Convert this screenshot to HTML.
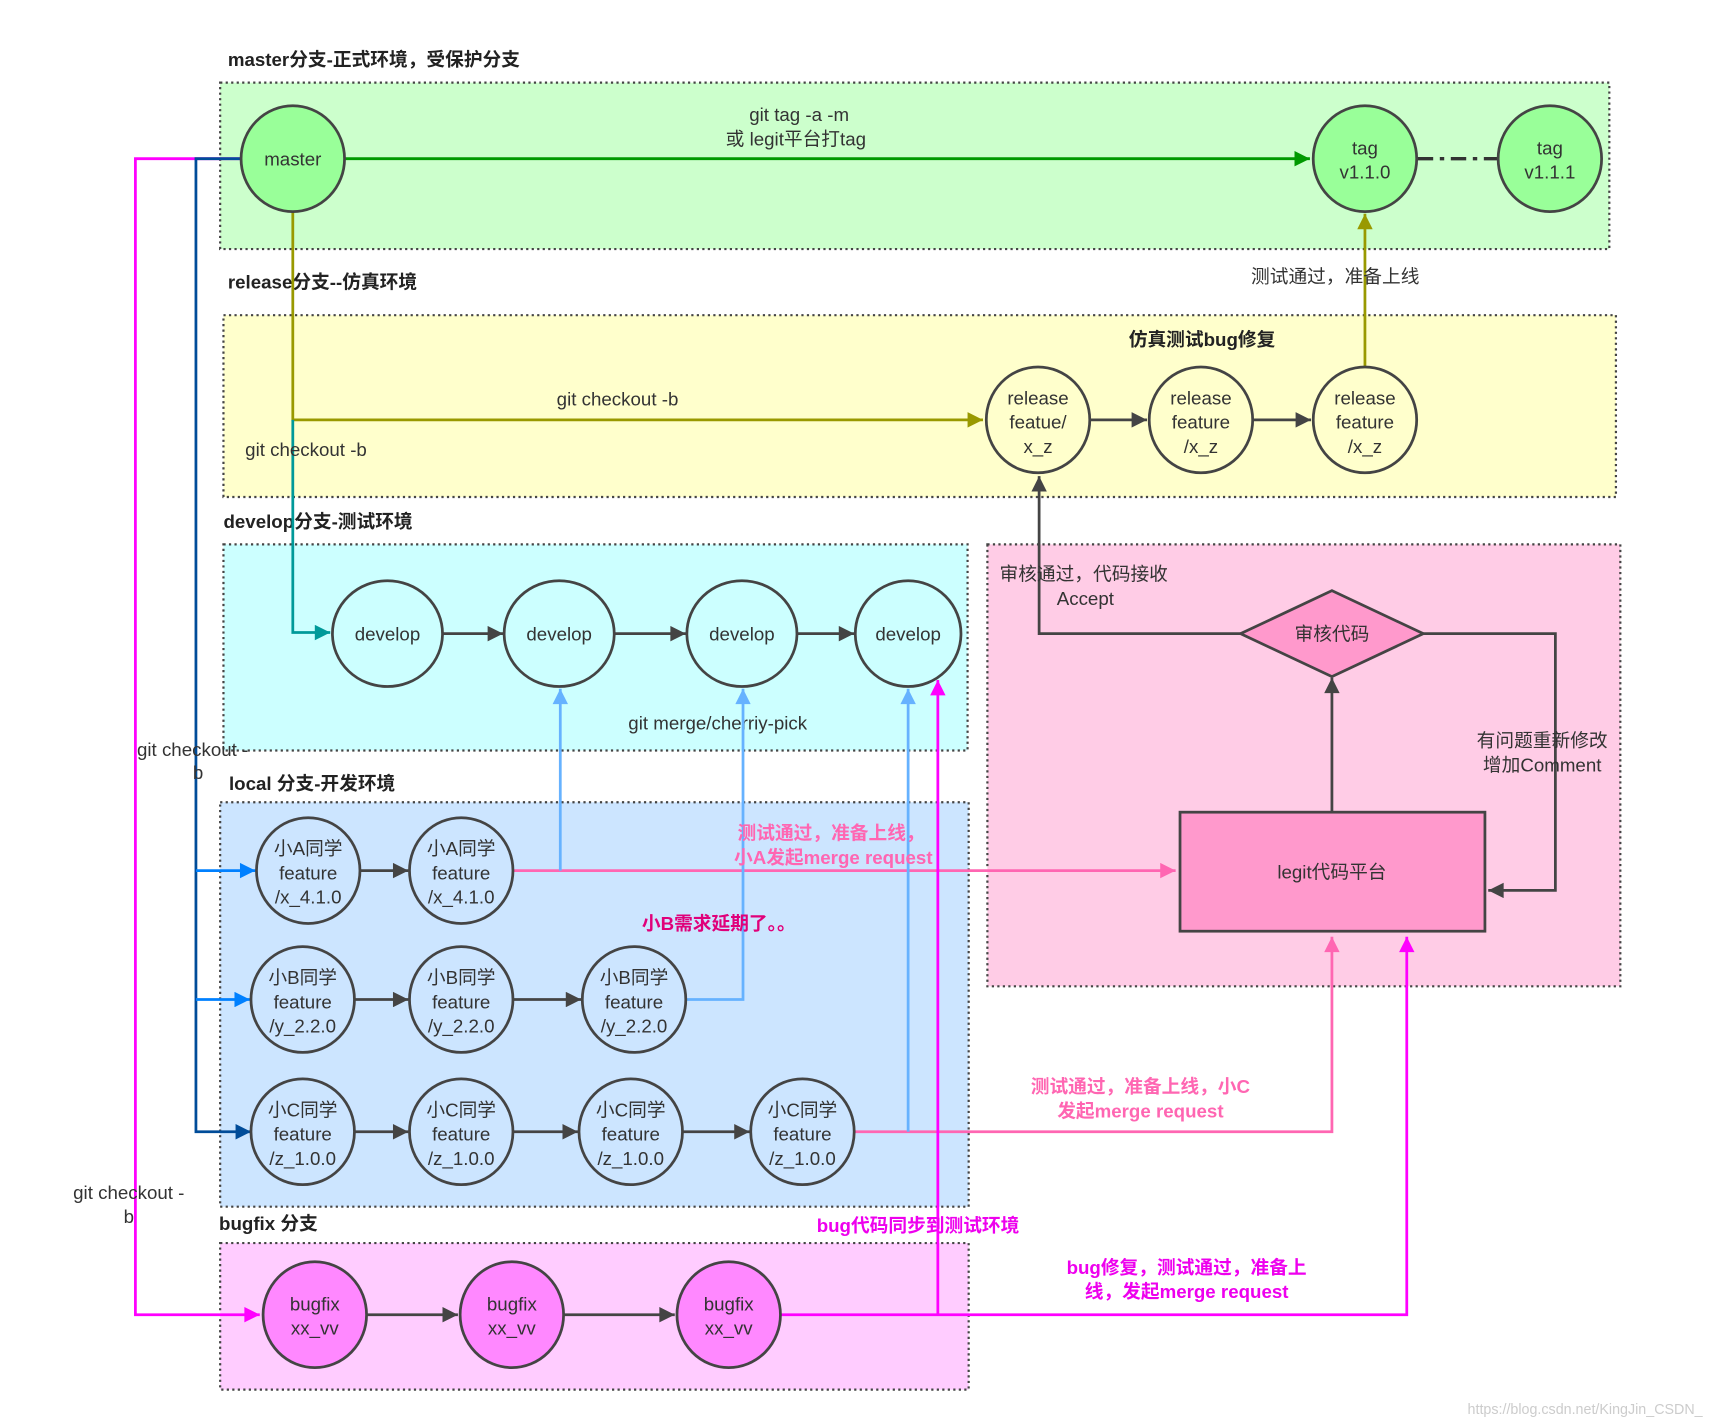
<!DOCTYPE html>
<html><head><meta charset="utf-8"><style>
html,body{margin:0;padding:0;background:#fff;}
svg{display:block;}
text{font-family:"Liberation Sans","Noto Sans CJK SC",sans-serif;font-size:17px;fill:#333;}
.b{font-weight:bold;fill:#222;}
.n{text-anchor:middle;fill:#333;}
.pk{font-weight:bold;fill:#ff66b2;text-anchor:middle;}
.mg{font-weight:bold;fill:#ee00ee;text-anchor:middle;}
</style></head><body>
<svg width="1726" height="1426" viewBox="0 0 1568 1294" preserveAspectRatio="none" xmlns="http://www.w3.org/2000/svg">
<defs>
<marker id="aDark" viewBox="0 0 10 10" refX="10" refY="5" markerWidth="20" markerHeight="14" orient="auto" markerUnits="userSpaceOnUse"><path d="M0,0L10,5L0,10z" fill="#444"/></marker>
<marker id="aGreen" viewBox="0 0 10 10" refX="10" refY="5" markerWidth="20" markerHeight="14" orient="auto" markerUnits="userSpaceOnUse"><path d="M0,0L10,5L0,10z" fill="#009900"/></marker>
<marker id="aOlive" viewBox="0 0 10 10" refX="10" refY="5" markerWidth="20" markerHeight="14" orient="auto" markerUnits="userSpaceOnUse"><path d="M0,0L10,5L0,10z" fill="#999900"/></marker>
<marker id="aTeal" viewBox="0 0 10 10" refX="10" refY="5" markerWidth="20" markerHeight="14" orient="auto" markerUnits="userSpaceOnUse"><path d="M0,0L10,5L0,10z" fill="#009999"/></marker>
<marker id="aLB" viewBox="0 0 10 10" refX="10" refY="5" markerWidth="20" markerHeight="14" orient="auto" markerUnits="userSpaceOnUse"><path d="M0,0L10,5L0,10z" fill="#66b2ff"/></marker>
<marker id="aB" viewBox="0 0 10 10" refX="10" refY="5" markerWidth="20" markerHeight="14" orient="auto" markerUnits="userSpaceOnUse"><path d="M0,0L10,5L0,10z" fill="#0080ff"/></marker>
<marker id="aDB" viewBox="0 0 10 10" refX="10" refY="5" markerWidth="20" markerHeight="14" orient="auto" markerUnits="userSpaceOnUse"><path d="M0,0L10,5L0,10z" fill="#004c99"/></marker>
<marker id="aPk" viewBox="0 0 10 10" refX="10" refY="5" markerWidth="20" markerHeight="14" orient="auto" markerUnits="userSpaceOnUse"><path d="M0,0L10,5L0,10z" fill="#ff66b2"/></marker>
<marker id="aMg" viewBox="0 0 10 10" refX="10" refY="5" markerWidth="20" markerHeight="14" orient="auto" markerUnits="userSpaceOnUse"><path d="M0,0L10,5L0,10z" fill="#ff00ff"/></marker>
</defs>

<g stroke="#444" stroke-width="2" stroke-dasharray="2,3">
<rect x="200" y="75" width="1262" height="151" fill="#ccffcc"/>
<rect x="203" y="286" width="1265" height="165" fill="#ffffcc"/>
<rect x="203" y="494" width="676" height="187" fill="#ccffff"/>
<rect x="897" y="494" width="575" height="401" fill="#ffcce6"/>
<rect x="200" y="728" width="680" height="367" fill="#cce5ff"/>
<rect x="200" y="1128" width="680" height="133" fill="#ffccff"/>
</g>

<text class="b" x="207" y="60">master分支-正式环境，受保护分支</text>
<text class="b" x="207" y="262">release分支--仿真环境</text>
<text class="b" x="1092" y="314" text-anchor="middle">仿真测试bug修复</text>
<text class="b" x="203" y="479">develop分支-测试环境</text>
<text class="b" x="208" y="717">local 分支-开发环境</text>
<text class="b" x="199" y="1116">bugfix 分支</text>

<path d="M218,144 H123 V1193 H236" fill="none" stroke="#ff00ff" stroke-width="2.5" marker-end="url(#aMg)"/>
<path d="M218,144 H178 V1027 H228" fill="none" stroke="#004c99" stroke-width="2.5" marker-end="url(#aDB)"/>
<path d="M178,790 H232" fill="none" stroke="#0080ff" stroke-width="2.5" marker-end="url(#aB)"/>
<path d="M178,907 H227" fill="none" stroke="#0080ff" stroke-width="2.5" marker-end="url(#aB)"/>
<text x="175" y="686" text-anchor="middle">git checkout -</text>
<text x="180" y="707" text-anchor="middle">b</text>
<text x="117" y="1088" text-anchor="middle">git checkout -</text>
<text x="117" y="1110" text-anchor="middle">b</text>

<path d="M313,144 H1190" stroke="#009900" stroke-width="2.5" marker-end="url(#aGreen)"/>
<text x="726" y="110" text-anchor="middle">git tag -a -m</text>
<text x="723" y="132" text-anchor="middle">或 legit平台打tag</text>
<path d="M1288,144 H1360" stroke="#333" stroke-width="3" stroke-dasharray="14,6,4,6"/>

<path d="M266,191 V381 H893" fill="none" stroke="#999900" stroke-width="2.5" marker-end="url(#aOlive)"/>
<path d="M266,381 V574 H300" fill="none" stroke="#009999" stroke-width="2.5" marker-end="url(#aTeal)"/>
<text x="561" y="368" text-anchor="middle">git checkout -b</text>
<text x="278" y="414" text-anchor="middle">git checkout -b</text>
<path d="M1240,334 V194" stroke="#999900" stroke-width="2.5" marker-end="url(#aOlive)"/>
<text x="1213" y="257" text-anchor="middle">测试通过，准备上线</text>

<path d="M991,381 H1042" stroke="#444" stroke-width="2.5" marker-end="url(#aDark)"/>
<path d="M1139,381 H1191" stroke="#444" stroke-width="2.5" marker-end="url(#aDark)"/>

<path d="M402,575 H457" stroke="#444" stroke-width="2.5" marker-end="url(#aDark)"/>
<path d="M558,575 H623" stroke="#444" stroke-width="2.5" marker-end="url(#aDark)"/>
<path d="M724,575 H776" stroke="#444" stroke-width="2.5" marker-end="url(#aDark)"/>
<text x="652" y="662" text-anchor="middle">git merge/cherriy-pick</text>

<path d="M1127,575 H944 V432" fill="none" stroke="#444" stroke-width="2.5" marker-end="url(#aDark)"/>
<text x="908" y="527">审核通过，代码接收</text>
<text x="986" y="549" text-anchor="middle">Accept</text>
<path d="M1293,575 H1413 V808 H1352" fill="none" stroke="#444" stroke-width="2.5" marker-end="url(#aDark)"/>
<text x="1401" y="678" text-anchor="middle">有问题重新修改</text>
<text x="1401" y="700" text-anchor="middle">增加Comment</text>
<path d="M1210,737 V615" stroke="#444" stroke-width="2.5" marker-end="url(#aDark)"/>
<polygon points="1127,575 1210,536 1293,575 1210,614" fill="#ff99cc" stroke="#444" stroke-width="2.5"/>
<text class="n" x="1210" y="581">审核代码</text>
<rect x="1072" y="737" width="277" height="108" fill="#ff99cc" stroke="#444" stroke-width="2.5"/>
<text class="n" x="1210" y="797">legit代码平台</text>

<path d="M466,790 H1068" stroke="#ff66b2" stroke-width="2.5" marker-end="url(#aPk)"/>
<path d="M509,790 V625" stroke="#66b2ff" stroke-width="2.5" marker-end="url(#aLB)"/>
<path d="M623,907 H675 V625" fill="none" stroke="#66b2ff" stroke-width="2.5" marker-end="url(#aLB)"/>
<path d="M776,1027 H1210 V850" fill="none" stroke="#ff66b2" stroke-width="2.5" marker-end="url(#aPk)"/>
<path d="M825,1027 V625" stroke="#66b2ff" stroke-width="2.5" marker-end="url(#aLB)"/>
<path d="M327,790 H371" stroke="#444" stroke-width="2.5" marker-end="url(#aDark)"/>
<path d="M322,907 H371" stroke="#444" stroke-width="2.5" marker-end="url(#aDark)"/>
<path d="M466,907 H528" stroke="#444" stroke-width="2.5" marker-end="url(#aDark)"/>
<path d="M322,1027 H371" stroke="#444" stroke-width="2.5" marker-end="url(#aDark)"/>
<path d="M466,1027 H525" stroke="#444" stroke-width="2.5" marker-end="url(#aDark)"/>
<path d="M620,1027 H681" stroke="#444" stroke-width="2.5" marker-end="url(#aDark)"/>
<text class="pk" x="755" y="762">测试通过，准备上线，</text>
<text class="pk" x="757" y="784">小A发起merge request</text>
<text class="b" x="653" y="844" text-anchor="middle" style="fill:#e0007a">小B需求延期了。。</text>
<text class="pk" x="1036" y="992">测试通过，准备上线，小C</text>
<text class="pk" x="1036" y="1014">发起merge request</text>

<path d="M710,1193 H1278 V850" fill="none" stroke="#ff00ff" stroke-width="2.5" marker-end="url(#aMg)"/>
<path d="M852,1193 V617" stroke="#ff00ff" stroke-width="2.5" marker-end="url(#aMg)"/>
<path d="M333,1193 H416" stroke="#444" stroke-width="2.5" marker-end="url(#aDark)"/>
<path d="M512,1193 H613" stroke="#444" stroke-width="2.5" marker-end="url(#aDark)"/>
<text class="mg" x="834" y="1118">bug代码同步到测试环境</text>
<text class="mg" x="1078" y="1156">bug修复，测试通过，准备上</text>
<text class="mg" x="1078" y="1178">线，发起merge request</text>

<g stroke="#444" stroke-width="2.5">
<ellipse cx="266" cy="144" rx="47" ry="48" fill="#99ff99"/>
<ellipse cx="1240" cy="144" rx="47" ry="48" fill="#99ff99"/>
<ellipse cx="1408" cy="144" rx="47" ry="48" fill="#99ff99"/>
<ellipse cx="943" cy="381" rx="47" ry="48" fill="#ffffcc"/>
<ellipse cx="1091" cy="381" rx="47" ry="48" fill="#ffffcc"/>
<ellipse cx="1240" cy="381" rx="47" ry="48" fill="#ffffcc"/>
<ellipse cx="352" cy="575" rx="50" ry="48" fill="#ccffff"/>
<ellipse cx="508" cy="575" rx="50" ry="48" fill="#ccffff"/>
<ellipse cx="674" cy="575" rx="50" ry="48" fill="#ccffff"/>
<ellipse cx="825" cy="575" rx="48" ry="48" fill="#ccffff"/>
<ellipse cx="280" cy="790" rx="47" ry="48" fill="#cce5ff"/>
<ellipse cx="419" cy="790" rx="47" ry="48" fill="#cce5ff"/>
<ellipse cx="275" cy="907" rx="47" ry="48" fill="#cce5ff"/>
<ellipse cx="419" cy="907" rx="47" ry="48" fill="#cce5ff"/>
<ellipse cx="576" cy="907" rx="47" ry="48" fill="#cce5ff"/>
<ellipse cx="275" cy="1027" rx="47" ry="48" fill="#cce5ff"/>
<ellipse cx="419" cy="1027" rx="47" ry="48" fill="#cce5ff"/>
<ellipse cx="573" cy="1027" rx="47" ry="48" fill="#cce5ff"/>
<ellipse cx="729" cy="1027" rx="47" ry="48" fill="#cce5ff"/>
<ellipse cx="286" cy="1193" rx="47" ry="48" fill="#ff88ff"/>
<ellipse cx="465" cy="1193" rx="47" ry="48" fill="#ff88ff"/>
<ellipse cx="662" cy="1193" rx="47" ry="48" fill="#ff88ff"/>
</g>
<text class="n" x="266" y="150">master</text>
<text class="n" x="1240" y="140">tag</text><text class="n" x="1240" y="162">v1.1.0</text>
<text class="n" x="1408" y="140">tag</text><text class="n" x="1408" y="162">v1.1.1</text>
<text class="n" x="943" y="367">release</text><text class="n" x="943" y="389">featue/</text><text class="n" x="943" y="411">x_z</text>
<text class="n" x="1091" y="367">release</text><text class="n" x="1091" y="389">feature</text><text class="n" x="1091" y="411">/x_z</text>
<text class="n" x="1240" y="367">release</text><text class="n" x="1240" y="389">feature</text><text class="n" x="1240" y="411">/x_z</text>
<text class="n" x="352" y="581">develop</text>
<text class="n" x="508" y="581">develop</text>
<text class="n" x="674" y="581">develop</text>
<text class="n" x="825" y="581">develop</text>
<text class="n" x="280" y="776">小A同学</text><text class="n" x="280" y="798">feature</text><text class="n" x="280" y="820">/x_4.1.0</text>
<text class="n" x="419" y="776">小A同学</text><text class="n" x="419" y="798">feature</text><text class="n" x="419" y="820">/x_4.1.0</text>
<text class="n" x="275" y="893">小B同学</text><text class="n" x="275" y="915">feature</text><text class="n" x="275" y="937">/y_2.2.0</text>
<text class="n" x="419" y="893">小B同学</text><text class="n" x="419" y="915">feature</text><text class="n" x="419" y="937">/y_2.2.0</text>
<text class="n" x="576" y="893">小B同学</text><text class="n" x="576" y="915">feature</text><text class="n" x="576" y="937">/y_2.2.0</text>
<text class="n" x="275" y="1013">小C同学</text><text class="n" x="275" y="1035">feature</text><text class="n" x="275" y="1057">/z_1.0.0</text>
<text class="n" x="419" y="1013">小C同学</text><text class="n" x="419" y="1035">feature</text><text class="n" x="419" y="1057">/z_1.0.0</text>
<text class="n" x="573" y="1013">小C同学</text><text class="n" x="573" y="1035">feature</text><text class="n" x="573" y="1057">/z_1.0.0</text>
<text class="n" x="729" y="1013">小C同学</text><text class="n" x="729" y="1035">feature</text><text class="n" x="729" y="1057">/z_1.0.0</text>
<text class="n" x="286" y="1189">bugfix</text><text class="n" x="286" y="1211">xx_vv</text>
<text class="n" x="465" y="1189">bugfix</text><text class="n" x="465" y="1211">xx_vv</text>
<text class="n" x="662" y="1189">bugfix</text><text class="n" x="662" y="1211">xx_vv</text>

<text x="1440" y="1283" text-anchor="middle" style="font-size:13px;fill:#ccc">https://blog.csdn.net/KingJin_CSDN_</text>
</svg>
</body></html>
